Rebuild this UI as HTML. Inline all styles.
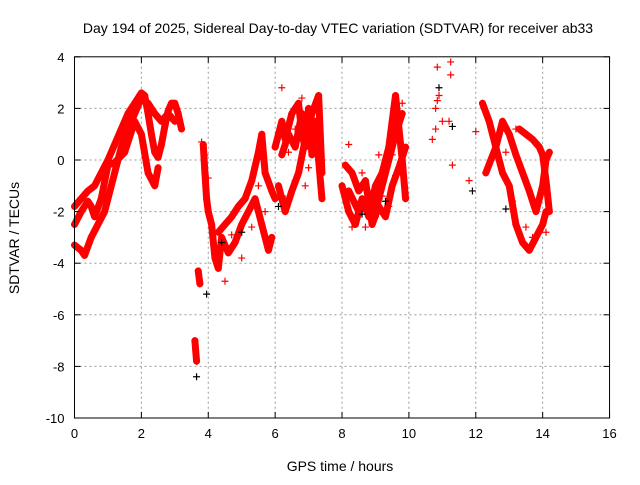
<!DOCTYPE html>
<html><head><meta charset="utf-8"><style>
body{margin:0;background:#fff;width:640px;height:480px;overflow:hidden}
svg{font-family:"Liberation Sans",sans-serif}
</style></head><body>
<svg id="chart" width="640" height="480" viewBox="0 0 640 480">
<text x="338" y="33" font-size="14" text-anchor="middle">Day 194 of 2025, Sidereal Day-to-day VTEC variation (SDTVAR) for receiver ab33</text>
<text x="340" y="471" font-size="14" text-anchor="middle">GPS time / hours</text>
<text x="19" y="238" font-size="14" text-anchor="middle" transform="rotate(-90 19 238)">SDTVAR / TECUs</text>
<g id="grid"></g><g id="bands"></g><g id="marks"></g><g id="axes"></g>
</svg>
<script>
const xTicks=[0,2,4,6,8,10,12,14,16];
const yTicks=[4,2,0,-2,-4,-6,-8,-10];
const trackA=[[0,-1.8],[0.2,-1.5],[0.4,-1.2],[0.6,-1.0],[0.8,-0.5],[1.0,0],[1.2,0.6],[1.4,1.2],[1.6,1.8],[1.8,2.2],[2.0,2.6],[2.1,2.5],[2.2,1.8],[2.3,1.0],[2.4,0.3],[2.5,0.1],[2.6,0.6],[2.7,1.3],[2.8,1.9],[2.9,2.2],[3.0,2.2],[3.1,1.8],[3.2,1.2]];
const trackB=[[0,-3.3],[0.2,-3.5],[0.3,-3.7],[0.5,-3.0],[0.7,-2.5],[0.9,-2.0],[1.0,-1.5],[1.2,-0.5],[1.4,0.5],[1.6,1.2],[1.8,1.8],[2.0,2.4],[2.2,2.2],[2.4,1.8],[2.6,1.5],[2.8,1.8],[3.0,1.5]];
const trackC=[[0,-2.5],[0.2,-2.0],[0.4,-1.6],[0.5,-1.8],[0.6,-2.2],[0.8,-1.5],[1.0,-0.2],[1.2,-0.1],[1.5,0.3],[1.8,1.5],[2.0,1.0],[2.2,-0.5],[2.4,-1.0],[2.5,-0.3]];
const trackD1=[[3.6,-7.0],[3.65,-7.8]];
const trackD2=[[3.7,-4.3],[3.75,-4.8]];
const trackD=[[3.85,0.6],[3.9,-0.5],[3.95,-1.5],[4.0,-2.0],[4.1,-2.5],[4.2,-3.8],[4.3,-4.2],[4.4,-3.0],[4.6,-3.6],[4.8,-3.2],[5.0,-2.5],[5.2,-2.0],[5.4,-1.5],[5.6,-2.5],[5.8,-3.5],[5.9,-3.0]];
const trackE=[[4.3,-2.8],[4.5,-2.5],[4.7,-2.2],[4.9,-1.8],[5.1,-1.5],[5.3,-0.8],[5.5,0.3],[5.6,1.0],[5.7,-0.5],[5.9,-1.2],[6.0,-1.5]];
const trackF=[[6.0,0.5],[6.2,1.5],[6.3,0.8],[6.5,1.8],[6.7,2.2],[6.8,1.0],[6.9,0.5],[7.0,2.0],[7.1,0.2],[7.2,1.5],[7.3,0.0],[7.4,-1.5]];
const trackG=[[6.1,-1.0],[6.3,-2.0],[6.5,-1.2],[6.7,-0.5],[6.9,0.8],[7.1,1.8],[7.3,2.5],[7.4,-0.5]];
const trackG2=[[6.2,0.2],[6.4,1.0],[6.6,0.5],[6.8,1.8],[7.0,1.0],[7.2,0.5]];
const trackH=[[8.0,-1.0],[8.2,-2.0],[8.4,-2.5],[8.6,-1.5],[8.8,-2.2],[9.0,-1.0],[9.2,-0.5],[9.4,0.5],[9.5,1.5],[9.6,2.5],[9.8,0.0],[9.9,-1.5]];
const trackI=[[8.1,-0.2],[8.3,-0.5],[8.5,-1.2],[8.7,-0.8],[8.9,-2.5],[9.1,-1.8],[9.3,-2.2],[9.5,-1.0],[9.7,-0.3],[9.9,0.5]];
const trackI2=[[8.2,-1.2],[8.5,-2.0],[8.8,-1.5],[9.0,-2.0],[9.3,-0.5],[9.6,1.0],[9.8,1.8]];
const trackK=[[12.2,2.2],[12.4,1.5],[12.6,0.5],[12.8,-0.5],[13.0,-1.0],[13.2,-2.5],[13.4,-3.2],[13.6,-3.5],[13.8,-3.0],[14.0,-2.5],[14.1,-2.0]];
const trackL=[[12.3,-0.5],[12.6,0.5],[12.8,1.5],[13.0,1.0],[13.2,0.2],[13.4,-0.5],[13.6,-1.2],[13.8,-2.0],[14.0,-1.0],[14.1,0.0],[14.2,0.3]];
const trackM=[[13.3,1.2],[13.5,1.0],[13.7,0.8],[13.9,0.5],[14.0,0.2],[14.1,-0.8],[14.2,-2.0]];
const scatter=[[10.7,0.8],[10.8,2.0],[10.85,3.6],[10.9,2.5],[10.8,1.2],[11.0,1.5],[11.2,1.5],[11.25,3.8],[11.25,3.3],[11.3,-0.2],[11.8,-0.8],[12.0,1.1],[10.85,2.3],
[6.2,2.8],[6.4,0.3],[6.6,-0.8],[6.8,2.4],[7.0,-0.3],[7.2,0.9],[6.3,-1.5],[6.6,1.2],[7.0,1.3],[7.3,1.0],[6.1,0.9],[6.9,-1.0],
[8.2,0.6],[8.4,-1.6],[8.6,-0.5],[8.8,-1.2],[9.0,-2.2],[9.2,-1.4],[9.4,-1.8],[9.6,-0.6],[9.8,2.2],[8.3,-2.6],[8.7,-2.6],[9.1,0.2],[9.5,0.2],
[4.5,-4.7],[4.7,-2.9],[5.0,-3.8],[5.3,-2.6],[5.5,-1.0],[5.7,-2.0],[4.0,-0.7],[3.9,0.2],[3.8,0.7],
[12.5,1.0],[12.9,0.3],[13.1,-1.6],[13.5,-2.6],[13.9,-1.5],[14.1,-2.8],[13.2,1.2],[13.7,-3.0]];
const blackPts=[[3.65,-8.4],[3.95,-5.2],[4.4,-3.2],[5.0,-2.8],[6.1,-1.8],[8.6,-2.1],[9.3,-1.6],[10.9,2.8],[11.3,1.3],[11.9,-1.2],[12.9,-1.9]];
const X=v=>74.5+v*33.44, Y=v=>160-v*25.8;
const NS="http://www.w3.org/2000/svg";
function mk(tag,attrs,parent){const e=document.createElementNS(NS,tag);for(const k in attrs)e.setAttribute(k,attrs[k]);parent.appendChild(e);return e;}
const grid=document.getElementById('grid'),axes=document.getElementById('axes'),bands=document.getElementById('bands'),marks=document.getElementById('marks');
xTicks.forEach(t=>{
 if(t>0&&t<16){const g=mk('line',{x1:X(t),x2:X(t),y1:Y(4),y2:Y(-10),stroke:'#999','stroke-dasharray':'2,3'},grid);
 
 }
 const l=mk('text',{x:X(t),y:Y(-10)+20,'font-size':13,'text-anchor':'middle'},axes);l.textContent=t;
 
 
 mk('line',{x1:X(t),x2:X(t),y1:Y(-10),y2:Y(-10)-6,stroke:'#000'},axes);
 mk('line',{x1:X(t),x2:X(t),y1:Y(4),y2:Y(4)+6,stroke:'#000'},axes);
});
yTicks.forEach(t=>{
 if(t<4&&t>-10){const g=mk('line',{x1:X(0),x2:X(16),y1:Y(t),y2:Y(t),stroke:'#999','stroke-dasharray':'2,3'},grid);
 
 }
 const l=mk('text',{x:X(0)-10,y:Y(t)+5,'font-size':13,'text-anchor':'end'},axes);l.textContent=t;
 
 
 mk('line',{x1:X(0),x2:X(0)+6,y1:Y(t),y2:Y(t),stroke:'#000'},axes);
 mk('line',{x1:X(16),x2:X(16)-6,y1:Y(t),y2:Y(t),stroke:'#000'},axes);
});
const frame=mk('rect',{x:X(0),y:Y(4),width:X(16)-X(0),height:Y(-10)-Y(4),fill:'none',stroke:'#000'},axes);


function plus(p,c,parent){const x=X(p[0]),y=Y(p[1]);mk('path',{d:`M${x-3.5} ${y}H${x+3.5}M${x} ${y-3.5}V${y+3.5}`,stroke:c,'stroke-width':1.2,fill:'none'},parent);}
[trackA,trackB,trackC,trackD1,trackD2,trackD,trackE,trackF,trackG,trackG2,trackH,trackI,trackI2,trackK,trackL,trackM].forEach(tr=>{
 const pl=mk('polyline',{points:tr.map(p=>X(p[0])+','+Y(p[1])).join(' '),fill:'none',stroke:'#f00','stroke-width':7,'stroke-linejoin':'round','stroke-linecap':'round'},bands);
 
 
 const g=mk('g',{},marks);
 
 
 tr.forEach(p=>plus(p,'#f00',g));
});
const sg=mk('g',{},marks);


scatter.forEach(p=>plus(p,'#f00',sg));
const bg=mk('g',{},marks);


blackPts.forEach(p=>plus(p,'#000',bg));
</script>
</body></html>
